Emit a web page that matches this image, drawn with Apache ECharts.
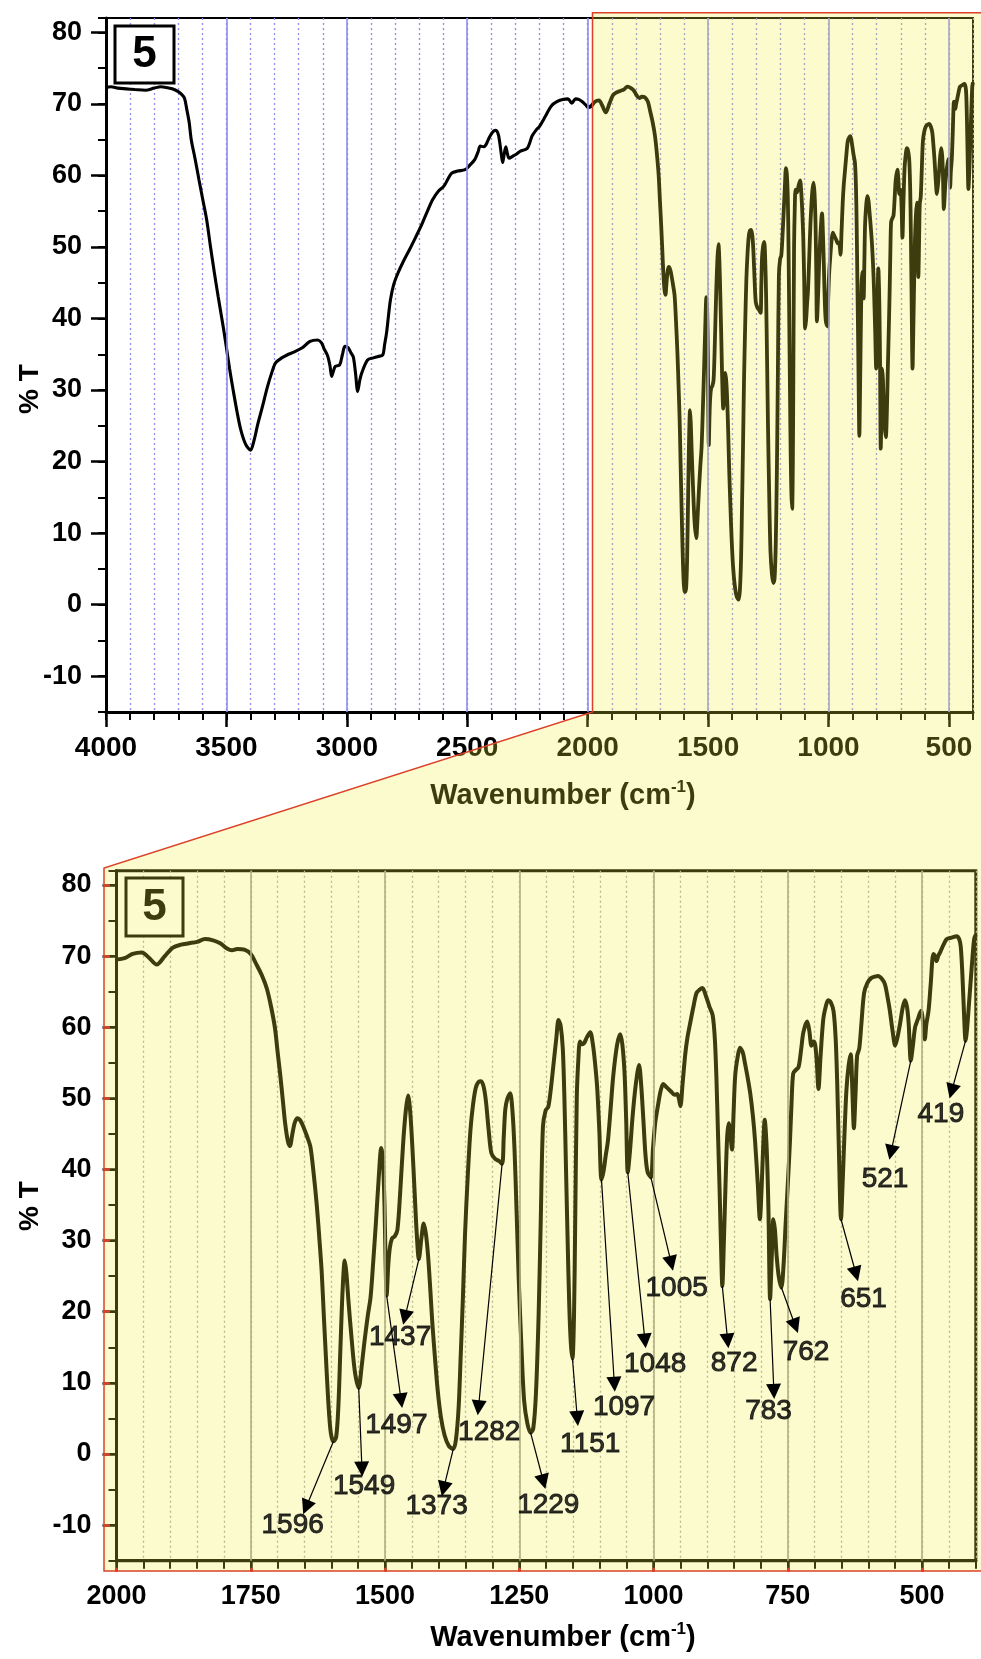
<!DOCTYPE html>
<html>
<head>
<meta charset="utf-8">
<title>FT-IR spectrum 5</title>
<script src="https://cdn.jsdelivr.net/npm/echarts@6.0.0/dist/echarts.min.js"></script>
<style>
  html, body { margin: 0; padding: 0; background: #ffffff; }
  #chart { width: 981px; height: 1659px; }
</style>
</head>
<body>
<div id="chart"></div>
<script>
// FT-IR transmittance spectrum of compound 5: [wavenumber (cm-1), %T]
const spectrum = [
  [4000,72.3],[3980,72.4],[3950,72.2],[3916,72.1],[3880,72.0],[3836,71.9],[3800,72.2],[3773,72.4],
  [3750,72.3],[3725,72.1],[3700,71.7],[3685,71.3],[3674,70.8],[3665,69.3],[3655,67.5],[3646,65.0],
  [3630,62.3],[3614,59.4],[3598,56.6],[3582,53.8],[3566,50.0],[3550,46.4],[3534,43.0],[3518,39.8],
  [3502,36.4],[3487,33.0],[3471,29.8],[3455,26.8],[3440,24.4],[3420,22.4],[3400,21.6],[3385,23.0],
  [3370,25.2],[3351,27.6],[3330,30.4],[3312,32.4],[3296,33.8],[3270,34.5],[3248,34.9],[3220,35.3],
  [3185,35.9],[3153,36.8],[3121,37.0],[3105,36.6],[3095,35.8],[3080,34.8],[3070,33.4],[3063,31.9],
  [3056,32.6],[3048,33.3],[3030,33.5],[3018,35.0],[3008,36.1],[2994,35.9],[2983,35.2],[2973,34.6],
  [2964,32.4],[2955,29.8],[2946,31.4],[2938,32.4],[2914,34.2],[2890,34.5],[2870,34.7],[2851,34.9],
  [2843,36.4],[2835,38.0],[2827,40.4],[2819,42.6],[2805,44.8],[2787,46.4],[2765,48.0],[2740,49.6],
  [2715,51.3],[2692,52.9],[2668,54.8],[2644,56.6],[2620,57.8],[2597,58.5],[2580,59.5],[2565,60.3],
  [2540,60.6],[2509,60.8],[2490,61.4],[2469,62.2],[2455,63.3],[2446,64.1],[2432,64.0],[2422,64.3],
  [2410,65.2],[2398,65.9],[2385,66.3],[2377,66.2],[2370,65.6],[2365,64.6],[2358,62.8],[2353,61.8],
  [2347,62.9],[2340,64.0],[2333,63.0],[2326,62.4],[2310,62.7],[2295,63.0],[2279,63.4],[2260,63.6],
  [2250,63.8],[2240,64.6],[2231,65.5],[2215,66.3],[2199,66.9],[2175,68.3],[2151,69.7],[2128,70.3],
  [2104,70.6],[2082,70.7],[2066,70.1],[2050,70.7],[2035,70.6],[2022,70.3],[2010,69.9],
  [2000,69.5],[1985,69.7],[1970,70.3],[1953,70.5],[1940,69.8],[1925,68.8],[1910,70.0],[1895,71.2],
  [1880,71.6],[1865,71.8],[1850,72.0],[1835,72.4],[1820,72.2],[1807,71.8],[1795,71.1],[1785,70.8],
  [1775,71.0],[1762,70.9],[1750,70.3],[1740,68.9],[1730,67.4],[1720,65.4],[1712,62.8],[1705,59.9],
  [1700,56.5],[1695,53.2],[1690,49.5],[1686,46.5],[1681,44.0],[1677,43.3],[1673,44.8],[1668,46.6],
  [1663,47.2],[1657,46.8],[1651,45.8],[1645,44.6],[1639,43.2],[1633,39.5],[1627,34.9],[1622,30.0],
  [1618,25.7],[1614,19.5],[1610,13.5],[1606,7.8],[1602,3.6],[1599,2.2],[1596,1.8],[1591,2.4],
  [1587,6.5],[1583,15.0],[1579,23.0],[1575,27.2],[1572,25.5],[1568,21.4],[1562,16.0],[1556,11.5],
  [1549,9.3],[1544,12.0],[1538,16.0],[1532,19.5],[1527,22.0],[1522,27.0],[1517,32.5],[1512,38.5],
  [1507,43.0],[1504,41.5],[1501,35.0],[1499,27.0],[1497,22.3],[1494,26.5],[1491,29.0],[1487,30.3],
  [1482,30.6],[1477,31.5],[1472,36.5],[1466,44.0],[1461,48.5],[1457,50.4],[1453,48.0],[1449,43.0],
  [1445,37.0],[1441,31.0],[1437,27.4],[1432,30.5],[1428,32.4],[1424,31.0],[1420,28.0],[1416,23.5],
  [1412,18.5],[1407,13.5],[1402,9.0],[1396,5.2],[1389,2.6],[1381,1.1],[1373,0.7],[1368,2.0],
  [1363,6.5],[1359,14.0],[1355,22.0],[1351,31.0],[1346,39.0],[1341,45.5],[1336,49.2],[1331,51.5],
  [1326,52.3],[1321,52.4],[1316,51.5],[1312,49.5],[1307,45.5],[1302,42.3],[1295,41.5],[1288,41.2],
  [1282,40.8],[1279,44.5],[1276,48.5],[1272,50.0],[1267,50.7],[1263,48.5],[1259,43.0],[1255,34.0],
  [1251,24.5],[1246,15.0],[1241,7.5],[1235,4.3],[1229,3.0],[1224,3.6],[1219,8.5],[1214,19.6],
  [1210,33.0],[1206,46.0],[1201,48.3],[1196,48.8],[1191,51.5],[1186,55.0],[1181,58.5],[1177,61.0],
  [1173,60.2],[1169,57.0],[1166,50.0],[1163,40.0],[1160,30.0],[1157,21.0],[1154,15.5],[1151,13.4],
  [1148,20.0],[1146,32.0],[1143,50.0],[1140,55.5],[1137,58.0],[1133,57.6],[1129,57.8],[1124,58.6],
  [1118,59.3],[1113,57.6],[1109,55.0],[1105,51.5],[1101,45.5],[1097,38.6],[1093,39.8],[1089,42.0],
  [1085,44.0],[1080,48.5],[1075,53.2],[1068,57.5],[1062,59.0],[1058,57.5],[1054,53.5],[1051,47.0],
  [1048,39.6],[1044,42.5],[1039,47.5],[1033,52.0],[1027,54.7],[1023,51.8],[1019,47.0],[1015,42.0],
  [1011,39.6],[1005,38.9],[1001,43.0],[997,46.5],[992,48.9],[987,51.0],[982,52.0],[975,51.5],
  [968,51.0],[961,50.5],[956,50.6],[953,50.0],[950,48.9],[946,52.0],[941,56.2],[937,58.5],
  [932,60.5],[926,62.8],[920,64.8],[914,65.3],[909,65.5],[903,64.5],[896,62.9],[890,61.7],
  [886,58.5],[883,53.0],[880,45.0],[877,37.0],[874,28.0],[872,23.6],[869,30.0],[866,37.9],
  [863,44.5],[860,46.5],[857,45.0],[854,42.8],[851,48.0],[848,53.2],[843,56.0],[839,57.1],
  [834,56.5],[830,55.0],[825,53.0],[820,50.7],[815,47.5],[811,44.0],[806,38.0],[802,33.0],
  [799,37.0],[796,43.0],[793,47.0],[790,44.0],[788,40.0],[786,34.0],[783,21.8],[780,27.5],
  [777,33.0],[774,31.5],[771,28.0],[767,25.0],[762,23.4],[758,26.5],[754,32.5],[750,38.0],
  [746,44.0],[743,49.5],[740,53.5],[735,54.0],[730,54.4],[725,57.0],[721,59.3],[714,60.8],
  [710,59.5],[706,57.4],[702,58.0],[699,57.5],[696,55.0],[693,51.3],[689,56.0],[684,61.1],
  [679,63.0],[675,63.8],[670,63.5],[665,62.3],[661,58.5],[658,52.0],[655,43.0],[651,33.0],
  [648,38.0],[645,44.0],[641,51.0],[637,54.5],[633,56.2],[630,51.5],[627,45.8],[624,50.5],
  [621,56.0],[617,57.0],[613,60.5],[608,64.8],[602,66.2],[595,66.9],[588,67.1],[582,67.2],
  [575,66.8],[569,66.0],[565,64.5],[560,62.3],[555,59.5],[550,57.4],[546,58.5],[541,60.5],
  [536,62.8],[532,63.8],[528,62.8],[525,60.5],[521,55.3],[517,57.5],[513,60.0],[508,61.1],
  [502,62.3],[498,60.5],[495,58.3],[492,60.5],[488,62.3],[484,66.0],[479,70.3],[476,70.0],
  [473,69.3],[470,70.0],[466,70.6],[460,71.6],[454,72.4],[445,72.6],[436,72.8],[431,72.4],
  [428,71.3],[425,67.5],[422,62.0],[419,58.1],[416,60.0],[413,63.0],[410,66.0],[406,70.0],
  [403,72.4],[400,73.0]
];

// Assigned band positions (cm-1)
const peakLabels = ['1596','1549','1497','1437','1373','1282','1229','1151','1097',
                    '1048','1005','872','783','762','651','521','419'];
// Arrowhead end of each callout, in [cm-1, %T]
const calloutTips = [
  [1647,-7.5],[1543,-2.1],[1470,7.5],[1463,19.2],[1391,-4.9],[1326,6.5],[1205,-3.9],[1142,5.0],
  [1073,9.8],[1016,15.9],[967,26.8],[862,15.9],[776,8.8],[736,18.0],[623,25.3],[558,42.4],[445,51.0]
];
// Text anchor of each callout, in [cm-1, %T]
const calloutText = [
  [1672,-10.0],[1539,-4.5],[1479,4.0],[1472,16.4],[1404,-7.4],[1306,3.0],[1196,-7.2],[1118,1.3],
  [1055,6.5],[997,12.6],[957,23.3],[850,12.8],[786,6.0],[716,14.3],[609,21.7],[569,38.6],[465,47.7]
];

// Labelled ticks
const wideTicks = [4000, 3500, 3000, 2500, 2000, 1500, 1000, 500];
const zoomTicks = [2000, 1750, 1500, 1250, 1000, 750, 500];
const tTicks = [-10, 0, 10, 20, 30, 40, 50, 60, 70, 80];

const FONT = '"Liberation Sans", Arial, Helvetica, sans-serif';
const INK = '#000000';
const BLUE_GRID = '#8c8cf0';
const GREY_GRID = '#9a9a9a';
const RED = '#dc4128';

const isTick = (list, v) => {
  const r = Math.round(v);
  return Math.abs(v - r) < 1e-6 && list.indexOf(r) >= 0;
};
const tAt = wn => {
  const p = spectrum.find(q => q[0] === wn);
  return p ? p[1] : null;
};

const wideLeft = spectrum.filter(p => p[0] >= 2000);
const fingerprint = spectrum.filter(p => p[0] <= 2000);

const arrows = peakLabels.map((lab, i) => {
  const wn = Number(lab);
  return { coords: [[wn, tAt(wn)], calloutTips[i]] };
});
const calloutItems = peakLabels.map((lab, i) => ({ name: lab, value: calloutText[i] }));

function mainX(gridIndex, min, max, step, ticks, labelSize, margin) {
  return {
    gridIndex, type: 'value', position: 'bottom', inverse: true, min, max, interval: step,
    axisLine: { show: true, onZero: false, lineStyle: { color: INK, width: 3 } },
    axisTick: { show: true, length: 8, lineStyle: { color: INK, width: 2 } },
    axisLabel: {
      show: true, margin, fontSize: labelSize, fontWeight: 'bold', fontFamily: FONT, color: INK,
      showMinLabel: true, showMaxLabel: true,
      formatter: v => (isTick(ticks, v) ? String(Math.round(v)) : '')
    },
    splitLine: { show: false }
  };
}
function majorX(gridIndex, min, max, ticks, len, color, offset, z) {
  return {
    gridIndex, type: 'value', position: 'bottom', inverse: true, min, max,
    offset: offset || 0, z: z || 0,
    axisLine: { show: false, onZero: false },
    axisTick: { show: true, customValues: ticks, length: len, lineStyle: { color, width: 2.5 } },
    axisLabel: { show: false },
    splitLine: { show: false }
  };
}
function mainY(gridIndex, margin) {
  return {
    gridIndex, type: 'value', position: 'left', min: -15, max: 82, interval: 5,
    axisLine: { show: true, onZero: false, lineStyle: { color: INK, width: 3 } },
    axisTick: { show: true, length: 8, lineStyle: { color: INK, width: 2 } },
    axisLabel: {
      show: true, margin, fontSize: 27, fontWeight: 'bold', fontFamily: FONT, color: INK,
      formatter: v => (isTick(tTicks, v) ? String(Math.round(v)) : '')
    },
    splitLine: { show: false }
  };
}
function majorY(gridIndex, len, color, offset, z) {
  return {
    gridIndex, type: 'value', position: 'left', min: -15, max: 82,
    offset: offset || 0, z: z || 0,
    axisLine: { show: false, onZero: false },
    axisTick: { show: true, customValues: tTicks, length: len, lineStyle: { color, width: 2.5 } },
    axisLabel: { show: false },
    splitLine: { show: false }
  };
}

const topX = mainX(0, 400, 4000, 100, wideTicks, 28, 22);
topX.splitLine = { show: true, lineStyle: { color: BLUE_GRID, width: 1.3, type: [2, 3] } };
const botX = mainX(1, 400, 2000, 50, zoomTicks, 27, 22);
botX.splitLine = { show: true, lineStyle: { color: '#a6a6a6', width: 1.3, type: [2, 3] } };

const gridLines = (values, color) => ({
  silent: true, symbol: 'none', animation: false,
  label: { show: false },
  lineStyle: { color, width: 1.6, type: 'solid' },
  data: values.map(v => ({ xAxis: v }))
});

const chart = echarts.init(document.getElementById('chart'), null, { renderer: 'canvas' });

chart.setOption({
  animation: false,
  backgroundColor: '#ffffff',
  grid: [
    { left: 106, top: 18, width: 867, height: 694, show: true, borderColor: INK, borderWidth: 2,
      backgroundColor: 'transparent' },
    { left: 116.5, top: 870.7, width: 859.3, height: 690, show: true, borderColor: INK, borderWidth: 3,
      backgroundColor: 'transparent' }
  ],
  xAxis: [
    topX,
    majorX(0, 400, 4000, wideTicks, 15, INK),
    botX,
    majorX(1, 400, 2000, zoomTicks, 10.5, INK),
    majorX(1, 400, 2000, zoomTicks, 4, RED, 7, 70)
  ],
  yAxis: [
    mainY(0, 24),
    majorY(0, 15, INK),
    mainY(1, 25),
    majorY(1, 14, INK),
    majorY(1, 7, RED, 6.5, 70)
  ],
  series: [
    { type: 'line', xAxisIndex: 0, yAxisIndex: 0, data: [], z: 1,
      markLine: gridLines(wideTicks.filter(v => v < 4000), BLUE_GRID) },
    { type: 'line', xAxisIndex: 0, yAxisIndex: 0, data: wideLeft, showSymbol: false, smooth: 0.3,
      lineStyle: { color: INK, width: 3.1 }, z: 3 },
    { type: 'line', xAxisIndex: 0, yAxisIndex: 0, data: fingerprint, showSymbol: false, smooth: 0.3,
      lineStyle: { color: INK, width: 3.8 }, z: 3 },
    { type: 'line', xAxisIndex: 2, yAxisIndex: 2, data: [], z: 1,
      markLine: gridLines(zoomTicks.filter(v => v < 2000), GREY_GRID) },
    { type: 'line', xAxisIndex: 2, yAxisIndex: 2, data: fingerprint, showSymbol: false, smooth: 0.3,
      lineStyle: { color: INK, width: 4 }, z: 3 },
    { type: 'lines', coordinateSystem: 'cartesian2d', xAxisIndex: 2, yAxisIndex: 2, data: arrows,
      symbol: ['none', 'triangle'], symbolSize: 15, silent: true,
      lineStyle: { color: '#000000', width: 1.2, opacity: 1 }, z: 60 },
    { type: 'scatter', xAxisIndex: 2, yAxisIndex: 2, data: calloutItems, symbolSize: 1, silent: true,
      itemStyle: { color: 'rgba(0,0,0,0)' }, z: 61,
      label: { show: true, position: 'inside', formatter: p => p.name, fontSize: 28,
               fontFamily: FONT, color: '#000000', textBorderColor: '#000000', textBorderWidth: 0.9 } }
  ],
  graphic: [
    // tinted magnifier region linking the 2000-400 cm-1 window to the enlarged panel
    { type: 'polygon', silent: true, z: 50,
      shape: { points: [[592.5, 12.7], [981, 12.7], [981, 1571], [104, 1571], [104, 868], [592.5, 712]] },
      style: { fill: 'rgba(240,238,60,0.25)' } },
    { type: 'polyline', silent: true, z: 51,
      shape: { points: [[981, 12.7], [592.5, 12.7], [592.5, 712], [104, 868], [104, 1571], [981, 1571]] },
      style: { stroke: RED, lineWidth: 1.5, fill: null } },
    // compound number tags
    { type: 'rect', z: 10, shape: { x: 115, y: 26, width: 59, height: 57 },
      style: { fill: '#ffffff', stroke: INK, lineWidth: 3 } },
    { type: 'text', z: 11, x: 144.5, y: 55,
      style: { text: '5', font: 'bold 44px ' + FONT, fill: INK, align: 'center', verticalAlign: 'middle' } },
    { type: 'rect', z: 10, shape: { x: 126, y: 878, width: 57, height: 58 },
      style: { fill: '#ffffff', stroke: INK, lineWidth: 3 } },
    { type: 'text', z: 11, x: 154.5, y: 908,
      style: { text: '5', font: 'bold 44px ' + FONT, fill: INK, align: 'center', verticalAlign: 'middle' } },
    // axis titles
    { type: 'text', z: 10, x: 563, y: 796,
      style: { text: 'Wavenumber (cm{s|-1})', fill: INK, align: 'center', verticalAlign: 'middle',
               font: 'bold 29px ' + FONT, lineHeight: 34,
               rich: { s: { fontSize: 17, fontWeight: 'bold', fontFamily: FONT, verticalAlign: 'top', lineHeight: 18 } } } },
    { type: 'text', z: 10, x: 563, y: 1638,
      style: { text: 'Wavenumber (cm{s|-1})', fill: INK, align: 'center', verticalAlign: 'middle',
               font: 'bold 29px ' + FONT, lineHeight: 34,
               rich: { s: { fontSize: 17, fontWeight: 'bold', fontFamily: FONT, verticalAlign: 'top', lineHeight: 18 } } } },
    { type: 'text', z: 10, x: 30, y: 389, rotation: Math.PI / 2,
      style: { text: '% T', font: 'bold 28px ' + FONT, fill: INK, align: 'center', verticalAlign: 'middle' } },
    { type: 'text', z: 10, x: 30, y: 1206, rotation: Math.PI / 2,
      style: { text: '% T', font: 'bold 28px ' + FONT, fill: INK, align: 'center', verticalAlign: 'middle' } }
  ]
});
</script>
</body>
</html>
